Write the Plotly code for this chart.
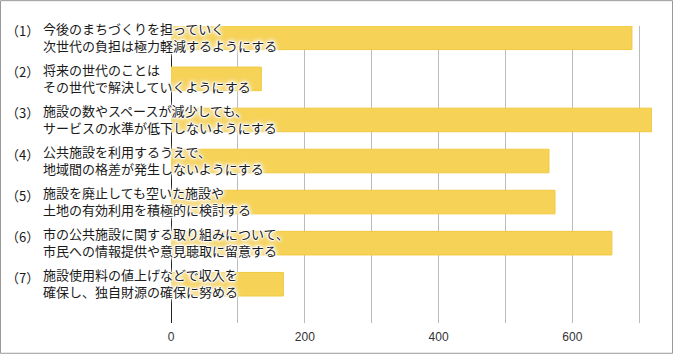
import plotly.graph_objects as go

numbers = ["（1）", "（2）", "（3）", "（4）", "（5）", "（6）", "（7）"]
line1 = [
    "今後のまちづくりを担っていく",
    "将来の世代のことは",
    "施設の数やスペースが減少しても、",
    "公共施設を利用するうえで、",
    "施設を廃止しても空いた施設や",
    "市の公共施設に関する取り組みについて、",
    "施設使用料の値上げなどで収入を",
]
line2 = [
    "次世代の負担は極力軽減するようにする",
    "その世代で解決していくようにする",
    "サービスの水準が低下しないようにする",
    "地域間の格差が発生しないようにする",
    "土地の有効利用を積極的に検討する",
    "市民への情報提供や意見聴取に留意する",
    "確保し、独自財源の確保に努める",
]
values = [689, 135, 719, 565, 574, 659, 168]
tick_vals = [0, 200, 400, 600]

W, H = 673, 356
L, R, T, B = 171, 21, 26, 31
pw, ph = W - L - R, H - T - B

ypos = list(range(len(values)))

fig = go.Figure(go.Bar(
    x=values, y=ypos, orientation="h",
    marker=dict(color="#F6D256", line=dict(color="#F1C940", width=1)),
    hoverinfo="skip",
))

font_family = "Noto Sans CJK JP"
shadow = ("1px 0 0 #fff, -1px 0 0 #fff, 0 1px 0 #fff, 0 -1px 0 #fff, "
          "0 0 3px #fff, 0 0 4px #fff, 0 0 5px #fff, 0 0 6px #fff, 0 0 7px #fff")
annotations = []
for i in ypos:
    annotations.append(dict(
        x=(4 - L) / pw, xref="paper", y=i, yref="y",
        text=numbers[i], showarrow=False, xanchor="left", yanchor="middle",
        yshift=7,
        font=dict(family=font_family, size=13, color="#1a1a1a", shadow=shadow),
    ))
    annotations.append(dict(
        x=(41 - L) / pw, xref="paper", y=i, yref="y",
        text=line1[i] + "<br>" + line2[i], showarrow=False,
        xanchor="left", yanchor="middle", align="left", yshift=1,
        font=dict(family=font_family, size=13, color="#1a1a1a", shadow=shadow),
    ))

fig.update_layout(
    width=W, height=H,
    margin=dict(l=L, r=R, t=T, b=B, pad=0),
    paper_bgcolor="white", plot_bgcolor="white",
    bargap=0.426, showlegend=False,
    annotations=annotations,
    xaxis=dict(
        range=[0, 719], tickvals=tick_vals, showgrid=True, gridcolor="#BBBBBB", gridwidth=1,
        minor=dict(dtick=100, showgrid=True, gridcolor="#BBBBBB", gridwidth=1, tick0=0),
        zeroline=True, zerolinecolor="#222", zerolinewidth=1,
        showline=False, ticks="", ticklabelstandoff=5,
        tickfont=dict(family="Liberation Sans", size=12, color="#333"),
        fixedrange=True,
    ),
    yaxis=dict(
        range=[6.944, -0.287], showticklabels=False, showgrid=False, zeroline=False,
        showline=False, ticks="", fixedrange=True,
    ),
    shapes=[dict(
        type="rect", xref="paper", yref="paper",
        x0=(0.5 - L) / pw, x1=(W - 0.5 - L) / pw,
        y0=(H - B - (H - 0.5)) / ph, y1=(H - B - 0.5) / ph,
        line=dict(color="#999999", width=1), fillcolor="rgba(0,0,0,0)", layer="above",
    )],
)

fig.write_html(
    "out.html",
    config={"displayModeBar": False},
    post_script="document.body.style.margin='0';document.body.style.overflow='hidden';",
)
